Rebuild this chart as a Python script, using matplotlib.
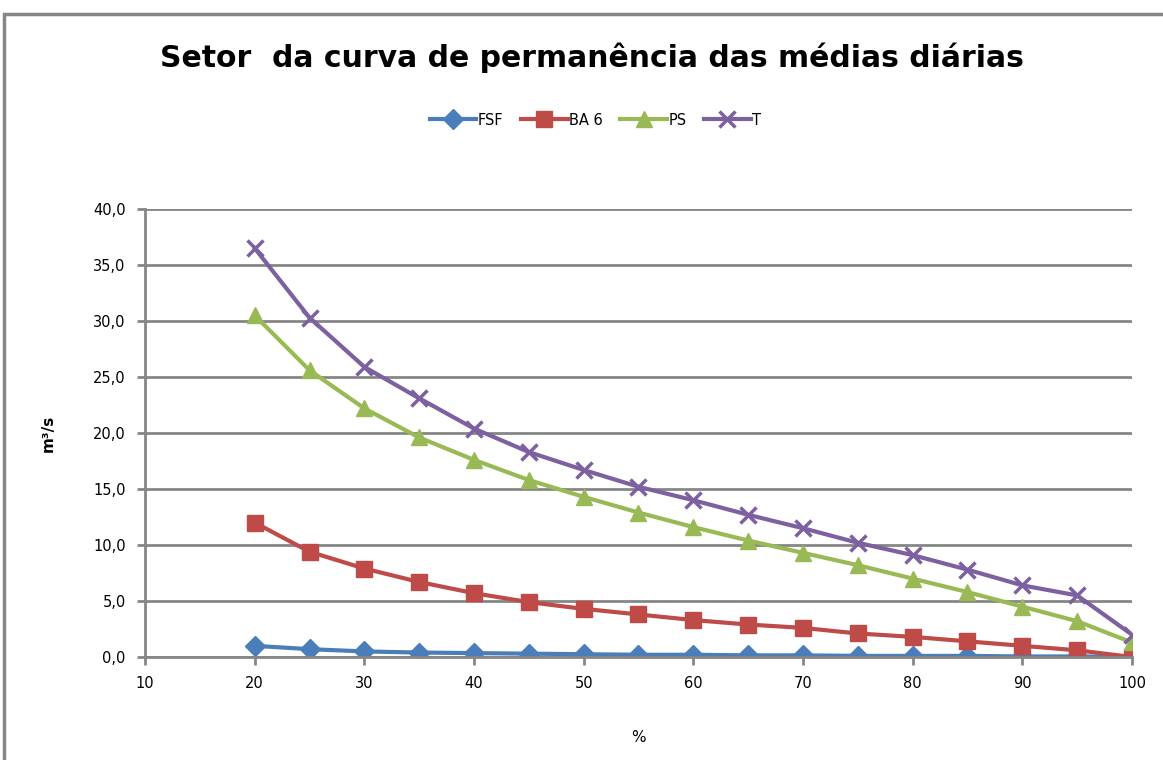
import matplotlib
matplotlib.use("Agg")
import matplotlib.pyplot as plt
from matplotlib.ticker import FuncFormatter, MultipleLocator
from matplotlib.patches import Rectangle

# permanence (%) and daily mean flow per section (m3/s)
perm = [20, 25, 30, 35, 40, 45, 50, 55, 60, 65, 70, 75, 80, 85, 90, 95, 100]
fsf = [1.0, 0.7, 0.5, 0.4, 0.35, 0.3, 0.25, 0.2, 0.2, 0.15, 0.15, 0.1, 0.1, 0.1, 0.05, 0.05, 0.0]
ba6 = [12.0, 9.4, 7.9, 6.7, 5.7, 4.9, 4.3, 3.8, 3.3, 2.9, 2.6, 2.1, 1.8, 1.4, 1.0, 0.6, 0.0]
ps = [30.5, 25.6, 22.2, 19.6, 17.6, 15.8, 14.3, 12.9, 11.6, 10.4, 9.3, 8.2, 7.0, 5.8, 4.5, 3.2, 1.3]
t = [36.5, 30.3, 25.9, 23.1, 20.4, 18.3, 16.7, 15.2, 14.0, 12.7, 11.5, 10.2, 9.1, 7.8, 6.4, 5.5, 2.0]

series = [
    ("FSF", fsf, "#4A7EBB", "D", 10),
    ("BA 6", ba6, "#BE4B48", "s", 11),
    ("PS", ps, "#98B954", "^", 11),
    ("T", t, "#7D60A0", "x", 12),
]

grey = "#868686"

fig = plt.figure(figsize=(11.63, 7.6), dpi=100)
ax = fig.add_axes([0.1247, 0.1355, 0.8486, 0.5895])

for name, vals, col, mk, ms in series:
    ax.plot(perm, vals, color=col, lw=3, marker=mk, markersize=ms,
            markeredgewidth=2.5 if mk == "x" else 1, markeredgecolor=col,
            markerfacecolor=col, label=name)

ax.set_xlim(10, 100)
ax.set_ylim(0, 40)
ax.xaxis.set_major_locator(MultipleLocator(10))
ax.yaxis.set_major_locator(MultipleLocator(5))
ax.yaxis.set_major_formatter(FuncFormatter(lambda v, p: f"{v:.1f}".replace(".", ",")))
ax.grid(axis="y", color=grey, lw=2)
ax.set_axisbelow(True)

for s in ["top", "right"]:
    ax.spines[s].set_visible(False)
for s in ["left", "bottom"]:
    ax.spines[s].set_color(grey)
    ax.spines[s].set_linewidth(2)
ax.tick_params(axis="both", colors=grey, width=2, length=6, labelcolor="black",
               labelsize=10.5, pad=8)

ax.set_xlabel("%", fontsize=11, labelpad=28)
ax.set_ylabel("m³/s", fontsize=11, fontweight="bold", labelpad=27)

fig.text(0.509, 0.924, "Setor  da curva de permanência das médias diárias",
         ha="center", va="center", fontsize=21.5, fontweight="bold")

fig.legend(loc="center", bbox_to_anchor=(0.512, 0.842), ncol=4, frameon=False,
           fontsize=10.5, handlelength=3.2, columnspacing=1.2, handletextpad=0.1)

# chart area border
fig.patches.append(Rectangle((0.0035, -0.05), 1.1, 1.0316,
                             transform=fig.transFigure, fill=False,
                             edgecolor=grey, lw=2.5))

fig.savefig("out.png", dpi=100)
